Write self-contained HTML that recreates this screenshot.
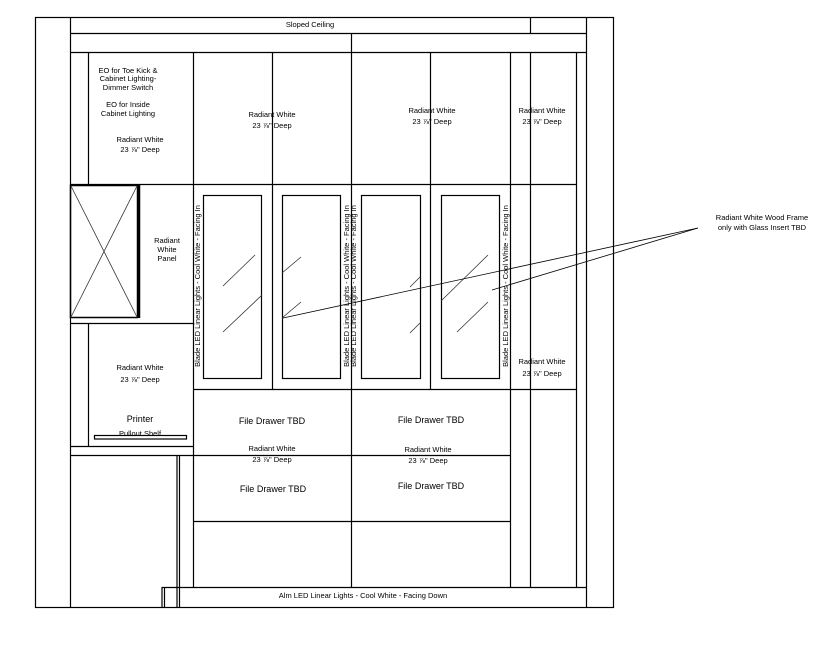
<!DOCTYPE html>
<html><head><meta charset="utf-8"><style>
html,body{margin:0;padding:0;background:#fff;}
svg{display:block;}
text{font-family:"Liberation Sans",sans-serif;font-size:7.5px;fill:#000;}
.f{font-size:9px;}
</style></head><body>
<svg width="825" height="666" viewBox="0 0 825 666" xmlns="http://www.w3.org/2000/svg">
<g stroke="#000" stroke-width="1.2" fill="none">
<rect x="35.5" y="17.5" width="578" height="590"/>
<line x1="70.5" y1="17" x2="70.5" y2="607"/>
<line x1="586.5" y1="17" x2="586.5" y2="607"/>
<line x1="70" y1="33.5" x2="586" y2="33.5"/>
<line x1="530.5" y1="17" x2="530.5" y2="33"/>
<line x1="70" y1="52.5" x2="586" y2="52.5"/>
<line x1="351.5" y1="33" x2="351.5" y2="587"/>
<line x1="88.5" y1="52" x2="88.5" y2="184"/>
<line x1="193.5" y1="52" x2="193.5" y2="587"/>
<line x1="272.5" y1="52" x2="272.5" y2="389"/>
<line x1="430.5" y1="52" x2="430.5" y2="389"/>
<line x1="510.5" y1="52" x2="510.5" y2="587"/>
<line x1="530.5" y1="52" x2="530.5" y2="587"/>
<line x1="576.5" y1="52" x2="576.5" y2="587"/>
<line x1="70" y1="184.5" x2="576" y2="184.5"/>
<line x1="193" y1="389.5" x2="576" y2="389.5"/>
<rect x="203.5" y="195.5" width="58" height="183"/>
<rect x="282.5" y="195.5" width="58" height="183"/>
<rect x="361.5" y="195.5" width="59" height="183"/>
<rect x="441.5" y="195.5" width="58" height="183"/>
<rect x="70.5" y="185.5" width="67" height="132" stroke-width="1.5"/>
<line x1="139" y1="185" x2="139" y2="318" stroke-width="2.5"/>
<line x1="70" y1="323.5" x2="193" y2="323.5"/>
<line x1="88.5" y1="323" x2="88.5" y2="446"/>
<line x1="70" y1="446.5" x2="193" y2="446.5"/>
<line x1="70" y1="455.5" x2="510" y2="455.5"/>
<line x1="193" y1="521.5" x2="510" y2="521.5"/>
<rect x="94.5" y="435.5" width="92" height="3.5"/>
<line x1="177" y1="455" x2="177" y2="607"/>
<line x1="179.5" y1="455" x2="179.5" y2="607"/>
<line x1="162" y1="587.5" x2="586" y2="587.5"/>
<line x1="162" y1="587" x2="162" y2="607"/>
<line x1="164.5" y1="587" x2="164.5" y2="607"/>
</g>
<g stroke="#333" stroke-width="0.8">
<line x1="71" y1="186" x2="137" y2="317"/>
<line x1="137" y1="186" x2="71" y2="317"/>
<line x1="223" y1="286" x2="255" y2="255"/>
<line x1="223" y1="332" x2="262" y2="295"/>
<line x1="282" y1="273" x2="301" y2="257"/>
<line x1="282" y1="318" x2="301" y2="302"/>
<line x1="410" y1="287" x2="420" y2="277"/>
<line x1="410" y1="333" x2="420" y2="323"/>
<line x1="441" y1="301" x2="488" y2="255"/>
<line x1="457" y1="332" x2="488" y2="302"/>
<line x1="698" y1="228" x2="283" y2="318" stroke="#000"/>
<line x1="698" y1="228" x2="492" y2="290" stroke="#000"/>
</g>
<g text-anchor="middle">
<text x="310" y="27">Sloped Ceiling</text>
<text x="128" y="73">EO for Toe Kick &amp;</text>
<text x="128" y="81">Cabinet Lighting-</text>
<text x="128" y="90">Dimmer Switch</text>
<text x="128" y="107">EO for Inside</text>
<text x="128" y="116">Cabinet Lighting</text>
<text x="140" y="142">Radiant White</text><text x="140" y="152">23 ⅞" Deep</text>
<text x="272" y="117">Radiant White</text><text x="272" y="128">23 ⅞" Deep</text>
<text x="432" y="113">Radiant White</text><text x="432" y="124">23 ⅞" Deep</text>
<text x="542" y="113">Radiant White</text><text x="542" y="124">23 ⅞" Deep</text>
<text x="167" y="243">Radiant</text><text x="167" y="252">White</text><text x="167" y="261">Panel</text>
<text x="140" y="370">Radiant White</text><text x="140" y="382">23 ⅞" Deep</text>
<text x="542" y="364">Radiant White</text><text x="542" y="376">23 ⅞" Deep</text>
<text x="140" y="422" class="f">Printer</text>
<text x="140" y="436">Pullout Shelf</text>
<text x="272" y="424" class="f">File Drawer TBD</text>
<text x="431" y="423" class="f">File Drawer TBD</text>
<text x="272" y="451">Radiant White</text><text x="272" y="462">23 ⅞" Deep</text>
<text x="428" y="452">Radiant White</text><text x="428" y="463">23 ⅞" Deep</text>
<text x="273" y="492" class="f">File Drawer TBD</text>
<text x="431" y="489" class="f">File Drawer TBD</text>
<text x="363" y="598">Alm LED Linear Lights - Cool White - Facing Down</text>
<text x="762" y="220">Radiant White Wood Frame</text>
<text x="762" y="230">only with Glass Insert TBD</text>
</g>
<g text-anchor="middle" fill="#333">
<text transform="translate(200,286) rotate(-90)">Blade LED Linear Lights - Cool White - Facing In</text>
<text transform="translate(349,286) rotate(-90)">Blade LED Linear Lights - Cool White - Facing In</text>
<text transform="translate(356,286) rotate(-90)">Blade LED Linear Lights - Cool White - Facing In</text>
<text transform="translate(508,286) rotate(-90)">Blade LED Linear Lights - Cool White - Facing In</text>
</g>
</svg>
</body></html>
